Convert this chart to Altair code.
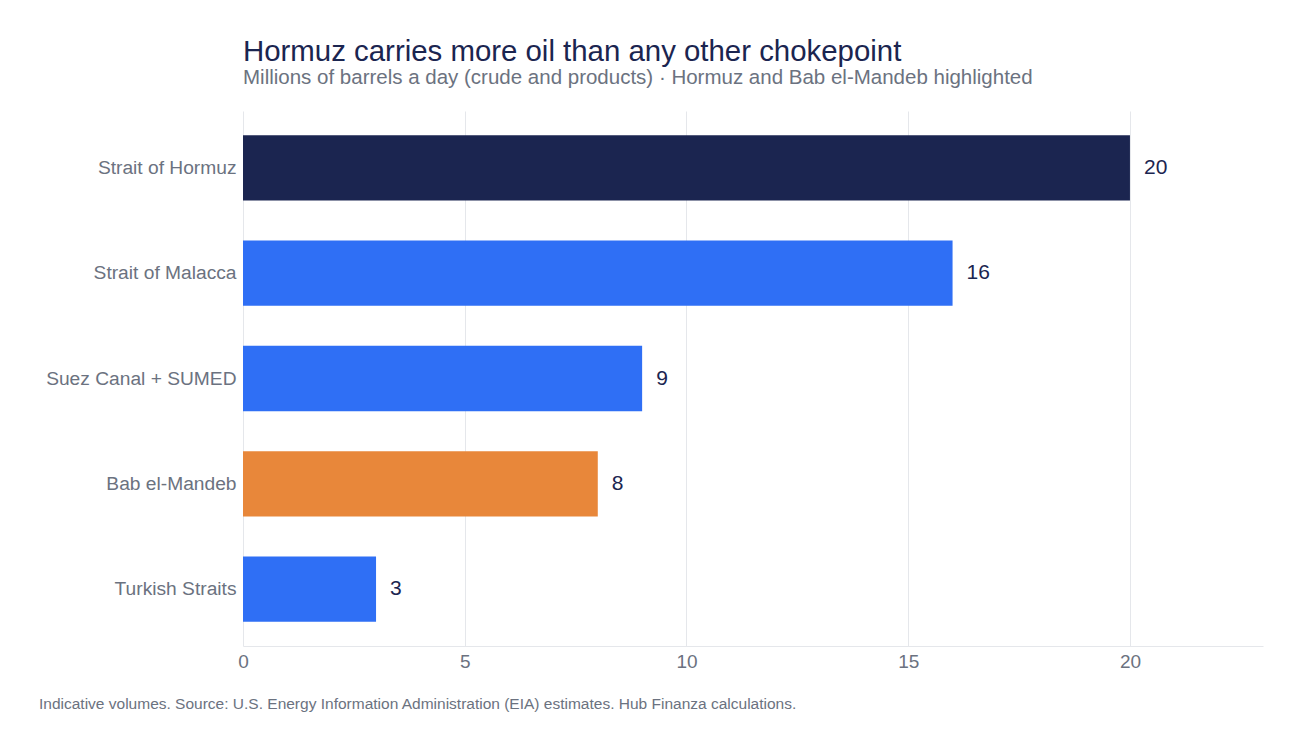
import altair as alt
import pandas as pd

routes = ["Strait of Hormuz", "Strait of Malacca", "Suez Canal + SUMED", "Bab el-Mandeb", "Turkish Straits"]
volumes = [20, 16, 9, 8, 3]
groups = ["hormuz", "other", "other", "bab", "other"]

df = pd.DataFrame({"route": routes, "value": volumes, "group": groups})

FONT = "Liberation Sans"
NAVY = "#1b2550"
GRAY = "#6b7280"

y_enc = alt.Y("route:N", sort=routes, title=None,
              scale=alt.Scale(paddingInner=0.38, paddingOuter=0.23),
              axis=alt.Axis(labelFontSize=19.2, labelColor=GRAY, labelFont=FONT, labelLimit=400,
                            labelPadding=7, ticks=False, domain=False, grid=False))
x_enc = alt.X("value:Q", title=None, scale=alt.Scale(domain=[0, 23], nice=False),
              axis=alt.Axis(values=[0, 5, 10, 15, 20], labelFontSize=19, labelColor=GRAY,
                            labelFont=FONT, ticks=False, domainColor="#e5e7eb", labelFlush=False,
                            gridColor="#e5e7eb", labelPadding=6))

bars = alt.Chart(df).mark_bar().encode(
    x=x_enc, y=y_enc,
    color=alt.Color("group:N", scale=alt.Scale(domain=["hormuz", "other", "bab"],
                                               range=[NAVY, "#2f6ff5", "#e8873a"]), legend=None),
)

labels = alt.Chart(df).mark_text(align="left", dx=14, fontSize=21, color=NAVY, font=FONT).encode(
    x="value:Q", y=alt.Y("route:N", sort=routes), text="value:Q"
)

footer = alt.Chart(pd.DataFrame({"t": ["Indicative volumes. Source: U.S. Energy Information Administration (EIA) estimates. Hub Finanza calculations."]})).mark_text(
    align="left", baseline="middle", fontSize=15.5, color=GRAY, font=FONT
).encode(x=alt.value(-204), y=alt.value(593), text="t:N")

chart = (bars + labels + footer).properties(
    width=1020, height=535,
    background="white",
    title=alt.TitleParams(
        "Hormuz carries more oil than any other chokepoint",
        subtitle="Millions of barrels a day (crude and products) · Hormuz and Bab el-Mandeb highlighted",
        anchor="start", frame="group", font=FONT, fontSize=29.4, fontWeight="normal", color=NAVY,
        subtitleFont=FONT, subtitleFontSize=20.5, subtitleColor=GRAY, offset=22, subtitlePadding=0,
    ),
    padding={"left": 31, "top": 29, "right": 20, "bottom": 20},
).configure_view(stroke=None)

chart.save("out.html", embed_options={"renderer": "svg", "actions": False})
